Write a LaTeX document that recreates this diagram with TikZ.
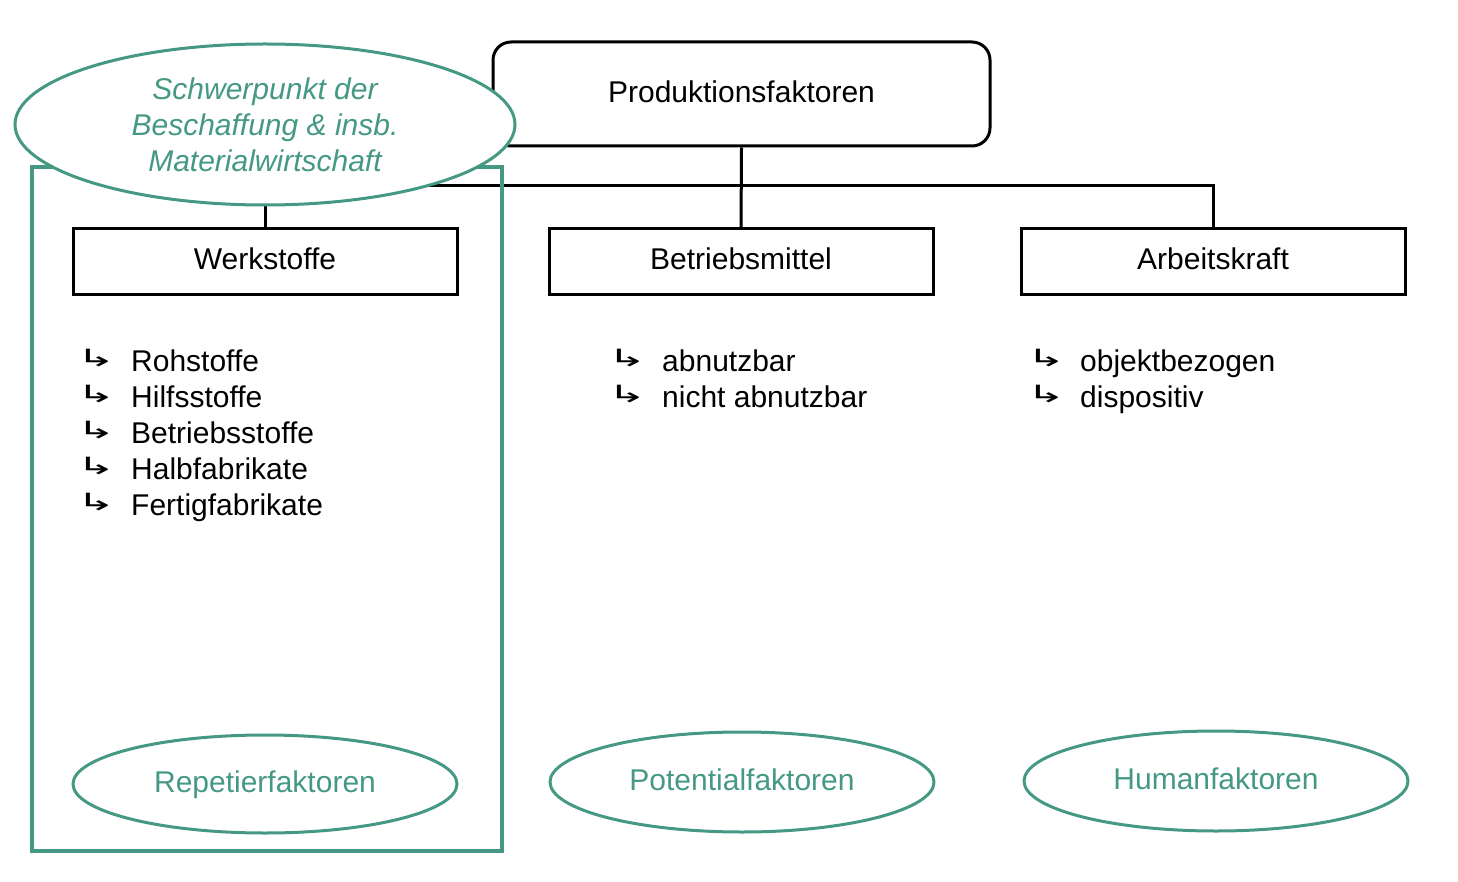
\documentclass[tikz,border=0pt]{standalone}
\usepackage{fontspec}
\setmainfont{Liberation Sans}
\newfontfamily\symfont{DejaVu Sans}
\usetikzlibrary{shapes.geometric}
\definecolor{tealg}{RGB}{69,153,132}
\tikzset{
  box/.style={draw=black, line width=3pt, minimum width=384pt, minimum height=66pt, inner sep=0pt, font=\fontsize{30}{36}\selectfont, text height=21pt, text depth=5pt},
  conn/.style={draw=black, line width=3pt},
  gell/.style={ellipse, draw=tealg, line width=3pt, fill=white, inner sep=0pt, text=tealg, font=\fontsize{30}{36}\selectfont},
  gone/.style={text height=21pt, text depth=5pt},
  item/.style={anchor=base west, inner sep=0pt, font=\fontsize{30}{36}\selectfont},
  arr/.style={anchor=base west, inner sep=0pt, font=\symfont\fontsize{25}{28}\selectfont},
}
\newcommand{\harr}{\scalebox{1.9}[0.95]{↳}}
\begin{document}
\begin{tikzpicture}[x=1pt,y=-1pt]
\useasboundingbox (0,0) rectangle (1458,882);
% top box
\node[draw=black, line width=3pt, rounded corners=18pt, minimum width=497pt, minimum height=104pt, inner sep=0pt, font=\fontsize{30}{36}\selectfont, text height=21pt, text depth=4pt] (prod) at (741.5,94) {Produktionsfaktoren};
\node[box] (werk) at (265,262) {Werkstoffe};
\node[box] (betr) at (741,262) {Betriebsmittel};
\node[box] (arb) at (1213,262) {Arbeitskraft};
\coordinate (bus) at (742,186);
\draw[conn] (prod.south) -- (betr.north);
\draw[conn] (werk.north) -- (werk.north |- bus) -- (arb.north |- bus) -- (arb.north);
% green frame
\draw[draw=tealg, line width=4pt] (32,167) rectangle (502,851);
\node[gell, minimum width=500pt, minimum height=161pt, font=\itshape\fontsize{30}{36}\selectfont, align=center] (schw) at (265,124.5) {Schwerpunkt der\\Beschaffung \& insb.\\Materialwirtschaft};
% lists
\foreach \t [count=\i] in {Rohstoffe,Hilfsstoffe,Betriebsstoffe,Halbfabrikate,Fertigfabrikate}{
  \node[arr] (wa\i) at (76,{366+36*(\i-1)}) {\harr};
  \node[item] (wi\i) at (131,{371+36*(\i-1)}) {\t};
}
\foreach \t [count=\i] in {abnutzbar,nicht abnutzbar}{
  \node[arr] (ba\i) at (607,{366+36*(\i-1)}) {\harr};
  \node[item] (bi\i) at (662,{371+36*(\i-1)}) {\t};
}
\foreach \t [count=\i] in {objektbezogen,dispositiv}{
  \node[arr] (aa\i) at (1026,{366+36*(\i-1)}) {\harr};
  \node[item] (ai\i) at (1080,{371+36*(\i-1)}) {\t};
}
% bottom ellipses
\node[gell, gone, minimum width=384pt, minimum height=98pt] (rep) at (265,784) {Repetierfaktoren};
\node[gell, gone, minimum width=384pt, minimum height=100pt] (pot) at (742,782) {Potentialfaktoren};
\node[gell, gone, minimum width=384pt, minimum height=100pt] (hum) at (1216,781) {Humanfaktoren};
\end{tikzpicture}
\end{document}
